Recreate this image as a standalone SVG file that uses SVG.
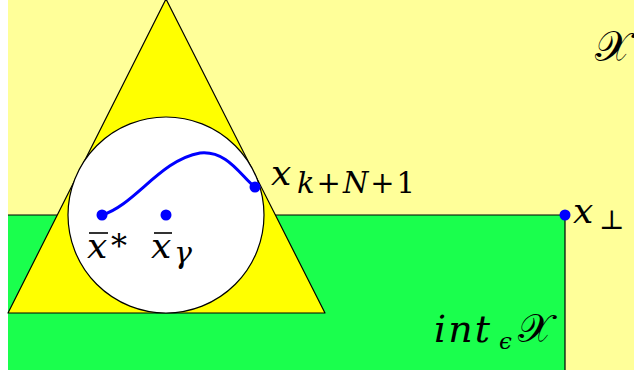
<svg xmlns="http://www.w3.org/2000/svg" width="634" height="374" viewBox="0 0 634 374">
<rect width="634" height="374" fill="#fff"/>
<g id="space-X">
<rect x="8" y="0" width="626" height="370" fill="#ffff99"/>
</g>
<g id="int-eps-X">
<path d="M8,215 H565 V370 H8 Z" fill="#1aff4d"/>
<path d="M8,215 H565 V370" fill="none" stroke="#000" stroke-width="1.2"/>
</g>
<g id="triangle">
<path d="M166,-1 L325,313 L8,313 Z" fill="#ffff00" stroke="#000" stroke-width="1.2" stroke-linejoin="round"/>
</g>
<g id="ball">
<circle cx="166" cy="215" r="98" fill="#fff" stroke="#000" stroke-width="1.2"/>
</g>
<g id="connectors">
<path d="M102,215 C135,205 160,160 200,153 C228,150 242,178 255,187" fill="none" stroke="#0000ff" stroke-width="3"/>
</g>
<g id="x-star">
<circle fill="#0000ff" cx="102" cy="215" r="5.5"/>
<line stroke="#000" stroke-width="1.6" x1="89" y1="233" x2="108" y2="233"/>
<text x="87" y="258" font-family="DejaVu Serif" font-style="italic" font-size="36">x</text>
<text x="111" y="257" font-family="DejaVu Serif" font-size="32">*</text>
</g>
<g id="x-gamma">
<circle fill="#0000ff" cx="166" cy="215" r="5.5"/>
<line stroke="#000" stroke-width="1.6" x1="154" y1="233" x2="172" y2="233"/>
<text x="151" y="258" font-family="DejaVu Serif" font-style="italic" font-size="36">x</text>
<text x="174" y="263" font-family="DejaVu Serif" font-style="italic" font-size="30">γ</text>
</g>
<g id="x-kN1">
<circle fill="#0000ff" cx="255" cy="187" r="5.5"/>
<text x="271" y="185" font-family="DejaVu Serif" font-style="italic" font-size="36">x</text>
<text x="297" y="193" font-family="DejaVu Serif" font-style="italic" font-size="29" letter-spacing="2">k<tspan font-style="normal">+</tspan>N<tspan font-style="normal">+1</tspan></text>
</g>
<g id="x-perp">
<circle fill="#0000ff" cx="565" cy="215" r="5.5"/>
<text x="573" y="223" font-family="DejaVu Serif" font-style="italic" font-size="36">x</text>
<text x="599" y="229" font-family="DejaVu Serif" font-size="27">⊥</text>
</g>
<g id="label-X">
<text x="595" y="61" font-family="DejaVu Serif" font-size="42">𝒳</text>
</g>
<g id="label-int">
<text x="434" y="342" font-family="DejaVu Serif" font-style="italic" font-size="38" letter-spacing="2">int</text>
<text x="499" y="349" font-family="DejaVu Serif" font-style="italic" font-size="23">ϵ</text>
<text x="518" y="342" font-family="DejaVu Serif" font-size="40">𝒳</text>
</g>
</svg>
